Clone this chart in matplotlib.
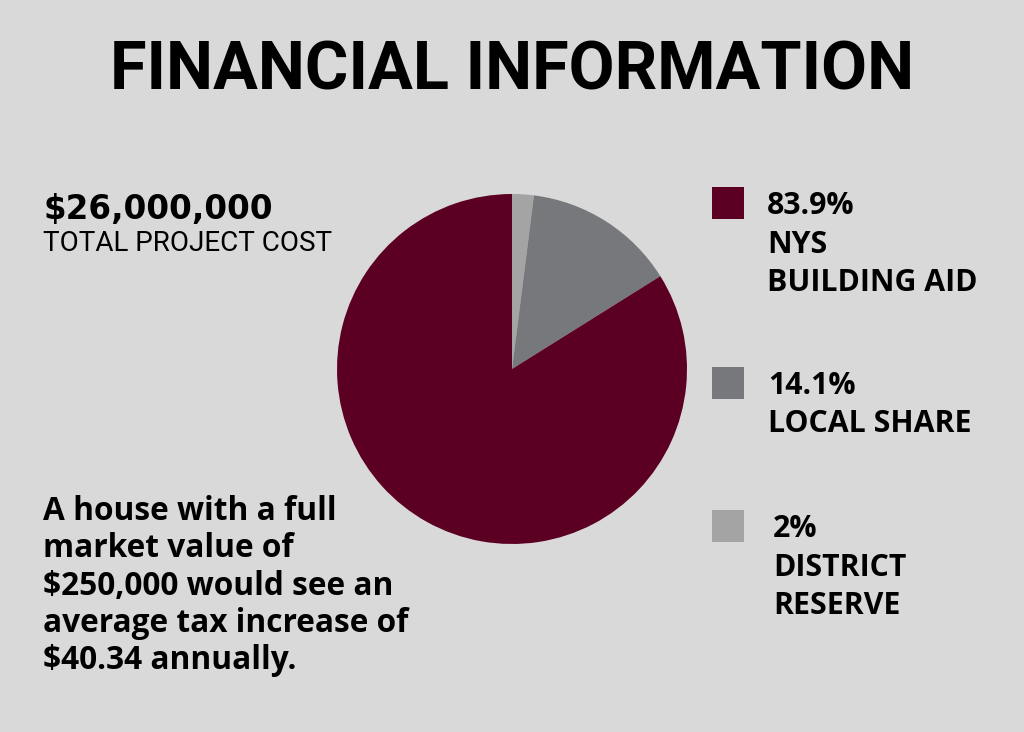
import matplotlib.pyplot as plt
from matplotlib.patches import Rectangle

# data
labels = ["NYS\nBUILDING AID", "LOCAL SHARE", "DISTRICT\nRESERVE"]
shares = [83.9, 14.1, 2.0]
share_text = ["83.9%", "14.1%", "2%"]
colors = ["#5c0023", "#77787c", "#a4a4a4"]

total_cost = "$26,000,000"
tax_note = ["A house with a full", "market value of", "$250,000 would see an",
            "average tax increase of", "$40.34 annually."]

BG = "#d9d9d9"
H = 732


def fy(px):
    return 1 - px / H


fig = plt.figure(figsize=(10.24, 7.32), dpi=100, facecolor=BG)

fig.text(0.5, fy(90), "FINANCIAL INFORMATION", ha="center", va="baseline",
         fontsize=48, fontweight="bold", family="Roboto")

# pie, drawn clockwise from the top with the small slices first
ax = fig.add_axes([0.5 - 175 / 1024, fy(544), 350 / 1024, 350 / H])
ax.pie(shares[::-1], colors=colors[::-1], startangle=90, counterclock=False,
       wedgeprops={"linewidth": 0})
ax.set_aspect("equal")
ax.set_xlim(-1, 1)
ax.set_ylim(-1, 1)
ax.axis("off")

# left texts
fig.text(43 / 1024, fy(219), total_cost, ha="left", va="baseline",
         fontsize=23.5, fontweight="bold", family="DejaVu Sans")
fig.text(43 / 1024, fy(251), "TOTAL PROJECT COST", ha="left", va="baseline",
         fontsize=20, family="Roboto")
for i, line in enumerate(tax_note):
    fig.text(43 / 1024, fy(520 + 37.3 * i), line, ha="left", va="baseline",
             fontsize=22.8, fontweight="bold", family="Open Sans")

# legend
legend_top = [187, 367, 510]
text_x = [767, 768, 773]
for top, tx, pct, lab, col in zip(legend_top, text_x, share_text, labels, colors):
    fig.patches.append(Rectangle((712 / 1024, fy(top + 32)), 32 / 1024, 32 / H,
                                 transform=fig.transFigure, facecolor=col, edgecolor="none"))
    lines = [pct] + lab.split("\n")
    for j, line in enumerate(lines):
        fig.text(tx / 1024, fy(top + 27 + 38.5 * j), line, ha="left", va="baseline",
                 fontsize=21.8, fontweight="bold", family="Open Sans")

fig.savefig("out.png", dpi=100, facecolor=BG)
